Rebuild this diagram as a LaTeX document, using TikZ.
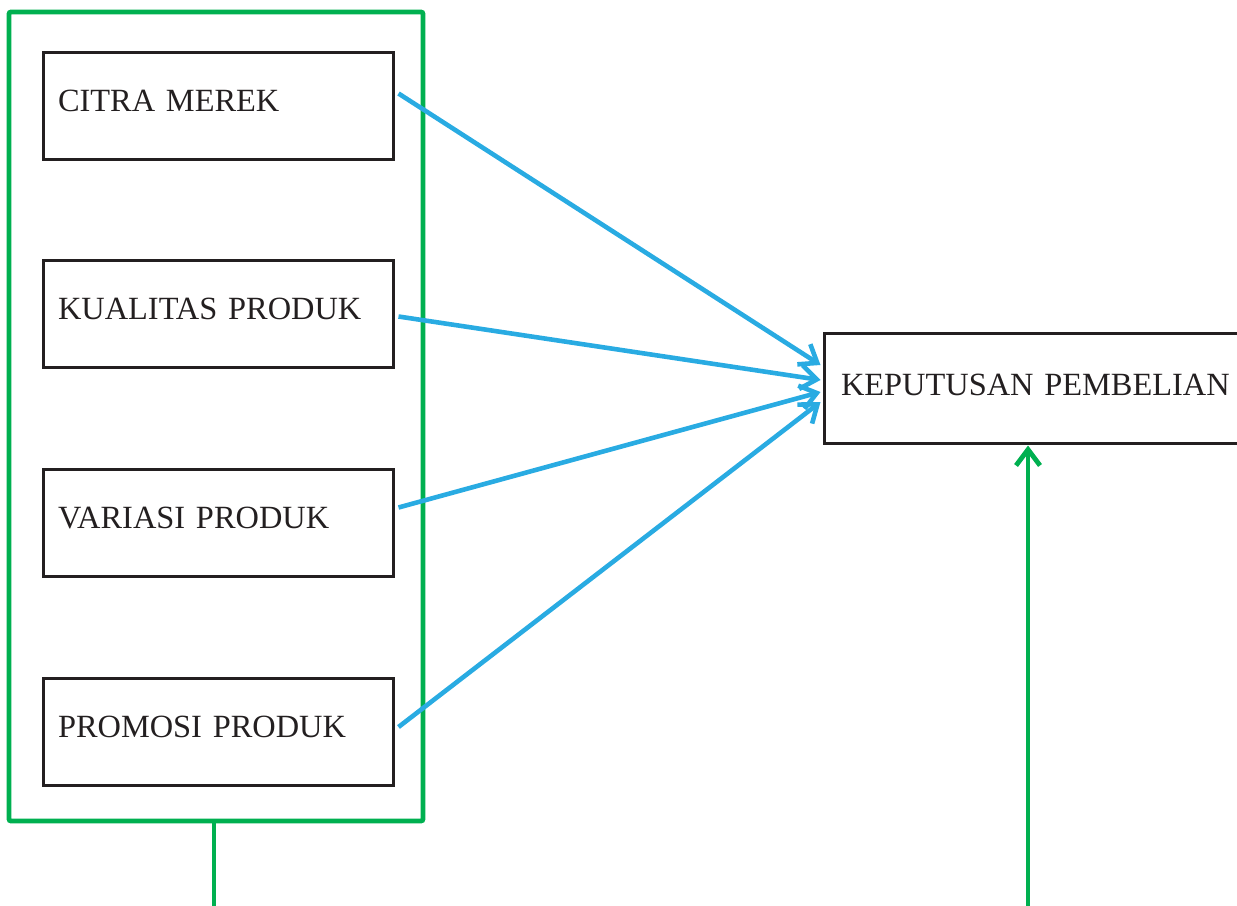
\documentclass[tikz,border=0pt]{standalone}
\usepackage{fontspec}
\setmainfont{Liberation Serif}
\usepackage{tikz}
\usetikzlibrary{arrows.meta, positioning, calc}
\definecolor{linkblue}{RGB}{41, 171, 226}
\definecolor{groupgreen}{RGB}{0, 176, 80}
\definecolor{boxline}{RGB}{35, 31, 32}

\begin{document}
\begin{tikzpicture}[
    x=0.5pt, y=-0.5pt,
    var/.style={draw=boxline, line width=1.5pt, minimum width=175pt,
                minimum height=53.5pt, text width=160pt, inner xsep=7.5pt,
                text depth=5pt, align=left,
                font=\fontsize{16.2}{18}\selectfont, text=boxline},
    dep/.style={var, minimum width=207pt, minimum height=55pt,
                text width=190pt, inner xsep=8.5pt, text depth=3pt},
    grp/.style={draw=groupgreen, line width=2.4pt, rounded corners=1pt,
                minimum width=207pt, minimum height=404.5pt},
    arr/.style={-{Straight Barb[length=8pt, width=12pt]}, line width=2.3pt, linkblue},
    garr/.style={-{Straight Barb[length=8pt, width=12pt]}, line width=2.4pt, groupgreen}
]
\useasboundingbox (0,0) rectangle (1237,905);

\node[grp] (frame) at (216, 416.5) {};

\node[var] (citra)    at (218, 105.5) {CITRA MEREK};
\node[var] (kualitas) at (218, 313.5) {KUALITAS PRODUK};
\node[var] (variasi)  at (218, 522.5) {VARIASI PRODUK};
\node[var] (promosi)  at (218, 732)   {PROMOSI PRODUK};

\node[dep] (kep) at (1031, 388) {\mbox{KEPUTUSAN PEMBELIAN}};

\draw[arr] ($(citra.east)+(4,-12)$)   -- ($(kep.west)+(-2,-23)$);
\draw[arr] ($(kualitas.east)+(4,3)$)  -- ($(kep.west)+(-2,-8)$);
\draw[arr] ($(variasi.east)+(4,-15)$) -- ($(kep.west)+(-2,4)$);
\draw[arr] ($(promosi.east)+(4,-5)$)  -- ($(kep.west)+(-2,14)$);

% lines leaving the picture at the bottom
\coordinate (low) at (214, 910);
\coordinate (up) at (1028, 910);
\draw[line width=2.4pt, groupgreen] ($(frame.south)+(-2,0)$) -- (low);
\draw[garr] (up) -- ($(kep.south)+(-3,1)$);

\end{tikzpicture}
\end{document}
